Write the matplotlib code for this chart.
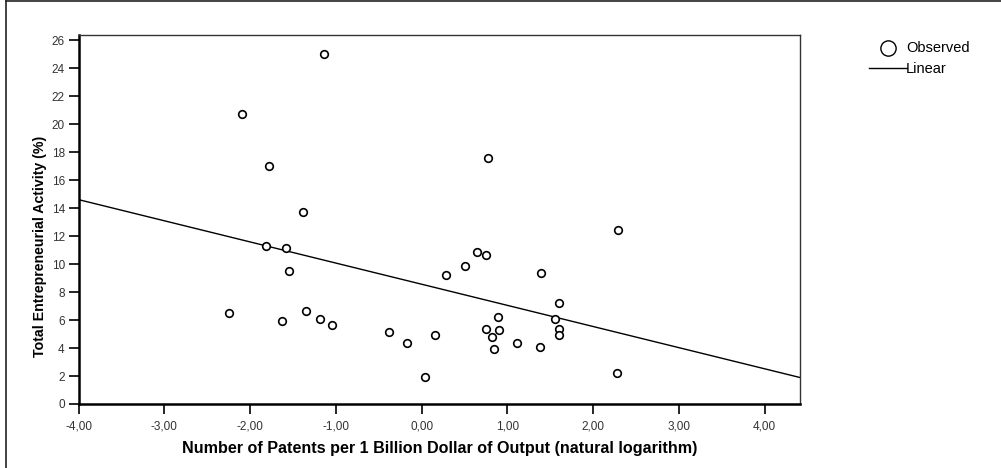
import numpy as np
import matplotlib
matplotlib.use("Agg")
import matplotlib.pyplot as plt
from matplotlib.lines import Line2D

patents_ln = [-1.14, -2.09, -1.78, -1.38, -1.81, -1.58, -1.55, -2.25, -1.63, -1.35,
              -1.19, -1.04, 0.78, 2.29, 0.65, 0.75, 0.51, 0.28, 1.39, 1.60,
              0.89, 1.56, 0.75, 0.90, 1.60, 1.60, 0.82, 0.84, 1.11, 1.38,
              2.28, 0.04, -0.38, -0.175, 0.16]
tea = [25.02, 20.75, 17.01, 13.72, 11.32, 11.18, 9.48, 6.50, 5.91, 6.65,
       6.10, 5.65, 17.58, 12.44, 10.86, 10.67, 9.86, 9.24, 9.34, 7.24,
       6.22, 6.08, 5.34, 5.27, 5.38, 4.95, 4.77, 3.93, 4.36, 4.05,
       2.19, 1.91, 5.17, 4.36, 4.93]

x_ticks = [-4, -3, -2, -1, 0, 1, 2, 3, 4]
x_tick_labels = ["-4,00", "-3,00", "-2,00", "-1,00", "0,00", "1,00", "2,00", "3,00", "4,00"]
y_ticks = list(range(0, 27, 2))
y_tick_labels = [str(v) for v in y_ticks]

plt.rcParams['font.family'] = ['Liberation Sans', 'DejaVu Sans']

fig = plt.figure(figsize=(10.01, 4.68), dpi=100)
ax = fig.add_axes([78.7 / 1001, 64 / 468, 721 / 1001, 369 / 468])

xmin, xmax = -4.0, 4.41
ax.set_xlim(xmin, xmax)
ax.set_ylim(0, 26.38)

ax.scatter(patents_ln, tea, s=30, facecolors='white', edgecolors='black',
           linewidths=1.2, zorder=3, clip_on=False)

slope, intercept = np.polyfit(patents_ln, tea, 1)
xs = np.array([xmin, xmax])
ax.plot(xs, intercept + slope * xs, color='black', lw=1.0, zorder=2)

ax.set_xticks(x_ticks)
ax.set_xticklabels(x_tick_labels)
ax.set_yticks(y_ticks)
ax.set_yticklabels(y_tick_labels)
ax.tick_params(axis='both', direction='out', length=7, width=1.2, labelsize=8.5,
               colors='black', labelcolor='#333333')
ax.tick_params(axis='x', pad=5)
ax.tick_params(axis='y', pad=3)

for side in ['left', 'bottom']:
    ax.spines[side].set_linewidth(1.8)
for side in ['top', 'right']:
    ax.spines[side].set_linewidth(1.0)
    ax.spines[side].set_color('#333333')

ax.set_xlabel("Number of Patents per 1 Billion Dollar of Output (natural logarithm)",
              fontsize=11.6, fontweight='bold', va='center')
ax.xaxis.set_label_coords(0.5, (404 - 448) / 369)
ax.set_ylabel("Total Entrepreneurial Activity (%)", fontsize=10.2, fontweight='bold',
              va='center')
ax.yaxis.set_label_coords((40 - 78.7) / 721, (404 - 246.7) / 369)

# Legend (manual, SPSS style)
fig.add_artist(Line2D([888.3 / 1001], [1 - 47.7 / 468], marker='o', markersize=11,
                      markerfacecolor='white', markeredgecolor='black',
                      markeredgewidth=1.0, transform=fig.transFigure))
fig.text(906 / 1001, 1 - 48 / 468, "Observed", fontsize=10.5, va='center', ha='left')
fig.add_artist(Line2D([869 / 1001, 907 / 1001], [1 - 68.3 / 468, 1 - 68.3 / 468],
                      color='black', lw=1.0, transform=fig.transFigure))
fig.text(906 / 1001, 1 - 69 / 468, "Linear", fontsize=10.5, va='center', ha='left')

# Outer frame (top and left)
fig.add_artist(Line2D([5.5 / 1001, 1.0], [1 - 1 / 468, 1 - 1 / 468], color='#222222',
                      lw=1.2, transform=fig.transFigure))
fig.add_artist(Line2D([5.5 / 1001, 5.5 / 1001], [0, 1 - 1 / 468], color='#222222',
                      lw=1.2, transform=fig.transFigure))

fig.savefig("out.png", dpi=100)
